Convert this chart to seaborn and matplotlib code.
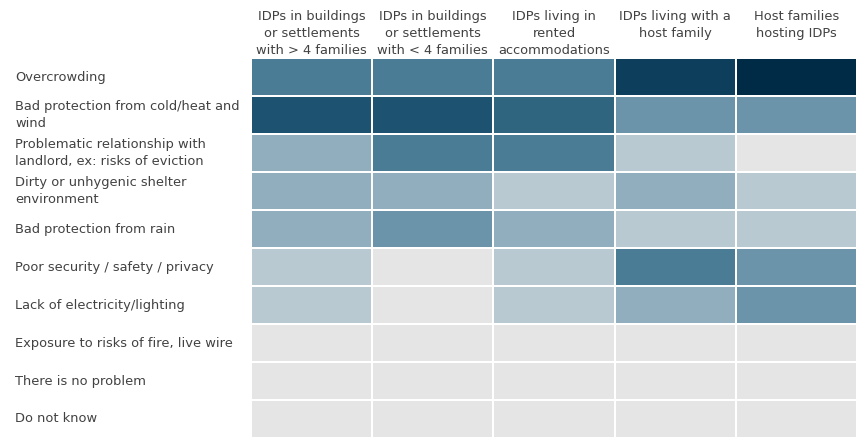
import matplotlib
matplotlib.use("Agg")
import matplotlib.pyplot as plt
import matplotlib.transforms as mtransforms
from matplotlib.colors import ListedColormap
import seaborn as sns
import pandas as pd

categories = [
    "Overcrowding",
    "Bad protection from cold/heat and\nwind",
    "Problematic relationship with\nlandlord, ex: risks of eviction",
    "Dirty or unhygenic shelter\nenvironment",
    "Bad protection from rain",
    "Poor security / safety / privacy",
    "Lack of electricity/lighting",
    "Exposure to risks of fire, live wire",
    "There is no problem",
    "Do not know",
]
groups = [
    "IDPs in buildings\nor settlements\nwith > 4 families",
    "IDPs in buildings\nor settlements\nwith < 4 families",
    "IDPs living in\nrented\naccommodations",
    "IDPs living with a\nhost family",
    "Host families\nhosting IDPs",
]
# intensity level (0 = not mentioned ... 8 = most frequent), read from shading
idp_large = [4, 6, 2, 2, 2, 1, 1, 0, 0, 0]
idp_small = [4, 6, 4, 2, 3, 0, 0, 0, 0, 0]
idp_rented = [4, 5, 4, 1, 2, 1, 1, 0, 0, 0]
idp_host = [7, 3, 1, 2, 1, 4, 2, 0, 0, 0]
host_fam = [8, 3, 0, 1, 1, 3, 3, 0, 0, 0]

palette = ["#e5e5e5", "#b8c9d2", "#90aebe", "#6b94aa", "#4b7c96",
           "#306580", "#1d5270", "#0d3f5c", "#002b47"]

df = pd.DataFrame({groups[0]: idp_large, groups[1]: idp_small,
                   groups[2]: idp_rented, groups[3]: idp_host,
                   groups[4]: host_fam}, index=categories)

sns.set_theme(style="white")
plt.rcParams["font.family"] = ["DejaVu Sans"]

fig = plt.figure(figsize=(8.57, 4.38), dpi=100)
ax = fig.add_axes([251 / 857, 0, 606 / 857, (438 - 58) / 438])
sns.heatmap(df, ax=ax, cmap=ListedColormap(palette), vmin=-0.5, vmax=8.5,
            cbar=False, linewidths=1.1, linecolor="white")

txtcol = "#424242"
ax.set_xlabel("")
ax.set_ylabel("")
ax.set_xticks([])
ax.tick_params(axis="y", length=0, pad=236 * 0.72)
ax.set_yticks([i + 0.5 for i in range(len(categories))])
ax.set_yticklabels(categories, rotation=0, ha="left", va="center",
                   fontsize=9.4, color=txtcol, linespacing=1.35)

trans = mtransforms.blended_transform_factory(ax.transData, fig.transFigure)
for i, g in enumerate(groups):
    ax.text(i + 0.5, 1 - 10 / 438, g, transform=trans, ha="center", va="top",
            fontsize=9.4, color=txtcol, linespacing=1.38)

fig.savefig("out.png", dpi=100)
